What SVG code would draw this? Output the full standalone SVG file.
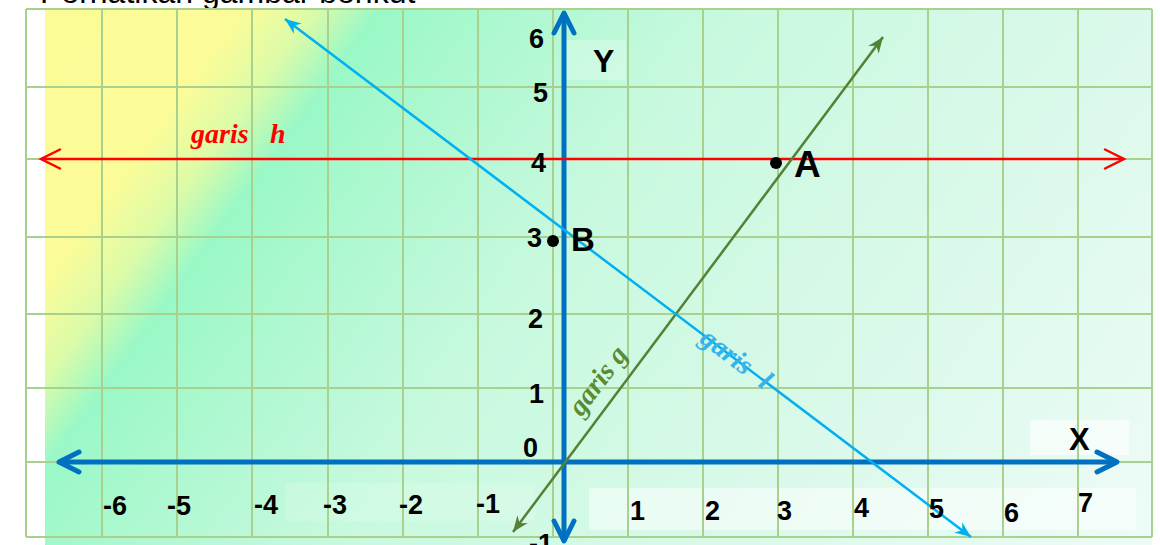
<svg xmlns="http://www.w3.org/2000/svg" width="1160" height="545" viewBox="0 0 1160 545">
<style>
.grid line{stroke:#a9d18e;stroke-width:2}
.tick{font-family:"Liberation Sans",Arial,sans-serif;font-weight:bold;font-size:27px;fill:#000}
.axlab{font-family:"Liberation Sans",Arial,sans-serif;font-weight:bold;fill:#000}
.script{font-family:"Liberation Serif","Times New Roman",serif;font-style:italic;font-weight:bold;font-size:28px}
</style>
<defs>
<linearGradient id="bg" gradientUnits="userSpaceOnUse" x1="0" y1="0" x2="1049" y2="768">
<stop offset="0" stop-color="#fcfc96"/>
<stop offset="0.155" stop-color="#fbfc98"/>
<stop offset="0.2" stop-color="#dcfba8"/>
<stop offset="0.24" stop-color="#9af8c7"/>
<stop offset="0.32" stop-color="#adf8d0"/>
<stop offset="0.46" stop-color="#c8f9df"/>
<stop offset="0.7" stop-color="#daf9ea"/>
<stop offset="0.93" stop-color="#ebfbf5"/>
<stop offset="1" stop-color="#eefcf7"/>
</linearGradient>
<marker id="chevAx" viewBox="-26 -15 30 30" refX="0" refY="0" markerWidth="30" markerHeight="30" markerUnits="userSpaceOnUse" orient="auto-start-reverse" overflow="visible">
<path d="M-20,-10 L0,0 L-20,10" fill="none" stroke="#0070c0" stroke-width="5" stroke-linecap="round" stroke-linejoin="round"/>
</marker>
<marker id="chevRed" viewBox="-24 -14 28 28" refX="0" refY="0" markerWidth="28" markerHeight="28" markerUnits="userSpaceOnUse" orient="auto-start-reverse" overflow="visible">
<path d="M-19,-9.5 L0,0 L-19,9.5" fill="none" stroke="#ff0000" stroke-width="2.5" stroke-linecap="round"/>
</marker>
<marker id="stBlue" viewBox="-20 -10 22 20" refX="0" refY="0" markerWidth="22" markerHeight="20" markerUnits="userSpaceOnUse" orient="auto-start-reverse" overflow="visible">
<path d="M0,0 L-16,-6.5 L-11,0 L-16,6.5 Z" fill="#00b0f0"/>
</marker>
<marker id="stGreen" viewBox="-20 -10 22 20" refX="0" refY="0" markerWidth="22" markerHeight="20" markerUnits="userSpaceOnUse" orient="auto-start-reverse" overflow="visible">
<path d="M0,0 L-16,-6.5 L-11,0 L-16,6.5 Z" fill="#548235"/>
</marker>
</defs>

<rect x="0" y="0" width="1160" height="545" fill="#ffffff"/>
<text x="40" y="3" font-family="'Liberation Sans',Arial,sans-serif" font-size="32" fill="#000">Perhatikan gambar berikut</text>

<g id="background">
<rect x="45" y="10" width="1107" height="535" fill="url(#bg)"/>
<rect x="589" y="488" width="547" height="42" fill="#ffffff" opacity="0.5"/>
<rect x="1030" y="420" width="99" height="35" fill="#ffffff" opacity="0.6"/>
<rect x="285" y="483" width="250" height="38" fill="#ffffff" opacity="0.15"/>
<rect x="566" y="40" width="60" height="40" fill="#ffffff" opacity="0.25"/>
</g>

<g id="grid" class="grid">
<line x1="26" y1="9" x2="26" y2="537"/>
<line x1="102" y1="9" x2="102" y2="537"/>
<line x1="177" y1="9" x2="177" y2="537"/>
<line x1="252" y1="9" x2="252" y2="537"/>
<line x1="328" y1="9" x2="328" y2="537"/>
<line x1="403" y1="9" x2="403" y2="537"/>
<line x1="478" y1="9" x2="478" y2="537"/>
<line x1="553" y1="9" x2="553" y2="537"/>
<line x1="628" y1="9" x2="628" y2="537"/>
<line x1="703" y1="9" x2="703" y2="537"/>
<line x1="778" y1="9" x2="778" y2="537"/>
<line x1="853" y1="9" x2="853" y2="537"/>
<line x1="928" y1="9" x2="928" y2="537"/>
<line x1="1003" y1="9" x2="1003" y2="537"/>
<line x1="1078" y1="9" x2="1078" y2="537"/>
<line x1="1152" y1="9" x2="1152" y2="537"/>
<line x1="26" y1="9" x2="1152" y2="9"/>
<line x1="26" y1="87" x2="1152" y2="87"/>
<line x1="26" y1="159" x2="1152" y2="159"/>
<line x1="26" y1="237" x2="1152" y2="237"/>
<line x1="26" y1="314" x2="1152" y2="314"/>
<line x1="26" y1="388" x2="1152" y2="388"/>
<line x1="26" y1="462" x2="1152" y2="462"/>
<line x1="26" y1="537" x2="1152" y2="537"/>
</g>

<g id="axes">
<line x1="59" y1="462" x2="1117" y2="462" stroke="#0070c0" stroke-width="5" marker-start="url(#chevAx)" marker-end="url(#chevAx)"/>
<line x1="564" y1="541" x2="564" y2="13" stroke="#0070c0" stroke-width="5" marker-start="url(#chevAx)" marker-end="url(#chevAx)"/>
</g>

<g id="connectors">
<line id="garis-h" x1="41" y1="159" x2="1124" y2="159" stroke="#ff0000" stroke-width="2.5" marker-start="url(#chevRed)" marker-end="url(#chevRed)"/>
<line id="garis-g" x1="513" y1="532" x2="883" y2="37" stroke="#548235" stroke-width="2.5" marker-start="url(#stGreen)" marker-end="url(#stGreen)"/>
<line id="garis-l" x1="285" y1="19" x2="971" y2="537" stroke="#00b0f0" stroke-width="2.5" marker-start="url(#stBlue)" marker-end="url(#stBlue)"/>
</g>

<g id="line-labels">
<text class="script" x="191" y="143" fill="#ff0000">garis<tspan x="270">h</tspan></text>
<text class="script" x="605" y="386" fill="#5a8a32" text-anchor="middle" transform="rotate(-53.2 605 386)">garis  g</text>
<text class="script" x="731" y="366" fill="#35b3ea" text-anchor="middle" transform="rotate(37 731 366)">garis<tspan dx="16">l</tspan></text>
</g>

<g id="tick-labels">
<text class="tick" x="103" y="515">-6</text>
<text class="tick" x="167" y="515">-5</text>
<text class="tick" x="254" y="514">-4</text>
<text class="tick" x="323" y="514">-3</text>
<text class="tick" x="399" y="514">-2</text>
<text class="tick" x="476" y="513">-1</text>
<text class="tick" x="630" y="520">1</text>
<text class="tick" x="705" y="520">2</text>
<text class="tick" x="777" y="520">3</text>
<text class="tick" x="854" y="517">4</text>
<text class="tick" x="929" y="518">5</text>
<text class="tick" x="1004" y="522">6</text>
<text class="tick" x="1078" y="512">7</text>
<text class="tick" x="529" y="48">6</text>
<text class="tick" x="533" y="102">5</text>
<text class="tick" x="531" y="172">4</text>
<text class="tick" x="527" y="247">3</text>
<text class="tick" x="528" y="328">2</text>
<text class="tick" x="529" y="403">1</text>
<text class="tick" x="523" y="457">0</text>
<text class="tick" x="529" y="553">-1</text>
<text class="axlab" x="1069" y="450" font-size="31">X</text>
<text class="axlab" x="593" y="72" font-size="32">Y</text>
</g>

<g id="point-A">
<circle cx="776" cy="163" r="6" fill="#000"/>
<text class="axlab" x="794" y="177" font-size="37">A</text>
</g>
<g id="point-B">
<circle cx="553" cy="241" r="6" fill="#000"/>
<text class="axlab" x="571" y="251" font-size="33">B</text>
</g>
</svg>
